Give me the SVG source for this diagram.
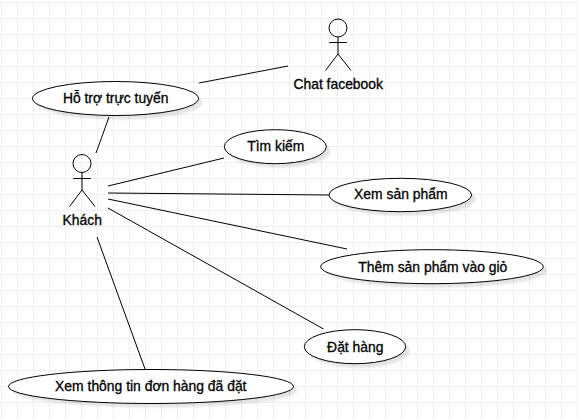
<svg xmlns="http://www.w3.org/2000/svg" width="578" height="418" viewBox="0 0 578 418">
<defs>
<pattern id="grid" width="16" height="16" patternUnits="userSpaceOnUse" x="1" y="2"><path d="M0.500 0V16M0 0.500H16" fill="none" stroke="#eeeeee" stroke-width="1"/></pattern>
<filter id="sh" x="-10%" y="-30%" width="120%" height="180%"><feGaussianBlur stdDeviation="1"/></filter>
</defs>
<style>
.u{fill:#fff;stroke:#000;stroke-width:1}
.s{fill:#000;opacity:.1;filter:url(#sh)}
.a{fill:none;stroke:#000;stroke-width:1}
.c{stroke:#000;stroke-width:1;fill:none}
text{font-family:"Liberation Sans",Arial,sans-serif;font-size:13.900px;fill:#000;text-anchor:middle;stroke:#000;stroke-width:.3}
</style>
<rect width="578" height="418" fill="#fff"/>
<rect width="578" height="418" fill="url(#grid)"/>
<g id="connectors">
<path class="c" d="M199 83L288 66"/>
<path class="c" d="M109 117L96 153"/>
<path class="c" d="M108 186L224 158"/>
<path class="c" d="M108 193L329 195"/>
<path class="c" d="M108 199L347 249"/>
<path class="c" d="M108 208L323.500 329"/>
<path class="c" d="M97 237L145 369"/>
</g>
<g id="actor-chat"><circle class="a" cx="338" cy="28" r="9"/><path class="a" d="M338 37V54M329 42.500H347M338 54L325.500 70.500M338 54L351 70.500"/><text x="338.200" y="88.500">Chat facebook</text></g>
<g id="actor-khach"><circle class="a" cx="82" cy="163.500" r="9"/><path class="a" d="M82 172.500V190M73 178.500H91M82 190L69.500 206.500M82 190L95 206.500"/><text x="82.200" y="225">Khách</text></g>
<g id="uc-hotro"><ellipse class="s" cx="119.500" cy="102.500" rx="83" ry="17"/><ellipse class="u" cx="115.500" cy="98.500" rx="83" ry="17"/><text x="115.700" y="103.300">Hỗ trợ trực tuyến</text></g>
<g id="uc-timkiem"><ellipse class="s" cx="279.300" cy="150.700" rx="51" ry="17"/><ellipse class="u" cx="275.300" cy="146.700" rx="51" ry="17"/><text x="275.800" y="151">Tìm kiếm</text></g>
<g id="uc-xemsp"><ellipse class="s" cx="404.300" cy="199" rx="71.300" ry="16.700"/><ellipse class="u" cx="400.300" cy="195" rx="71.300" ry="16.700"/><text x="400.800" y="199.300">Xem sản phẩm</text></g>
<g id="uc-them"><ellipse class="s" cx="436" cy="270.700" rx="111.300" ry="17"/><ellipse class="u" cx="432" cy="266.700" rx="111.300" ry="17"/><text x="432.800" y="271.500">Thêm sản phẩm vào giỏ</text></g>
<g id="uc-dathang"><ellipse class="s" cx="359" cy="350.700" rx="50.700" ry="17"/><ellipse class="u" cx="355" cy="346.700" rx="50.700" ry="17"/><text x="355.300" y="351.500">Đặt hàng</text></g>
<g id="uc-xemdon"><ellipse class="s" cx="155" cy="390.500" rx="142.500" ry="17"/><ellipse class="u" cx="151" cy="386.500" rx="142.500" ry="17"/><text x="150.800" y="391">Xem thông tin đơn hàng đã đặt</text></g>
</svg>
